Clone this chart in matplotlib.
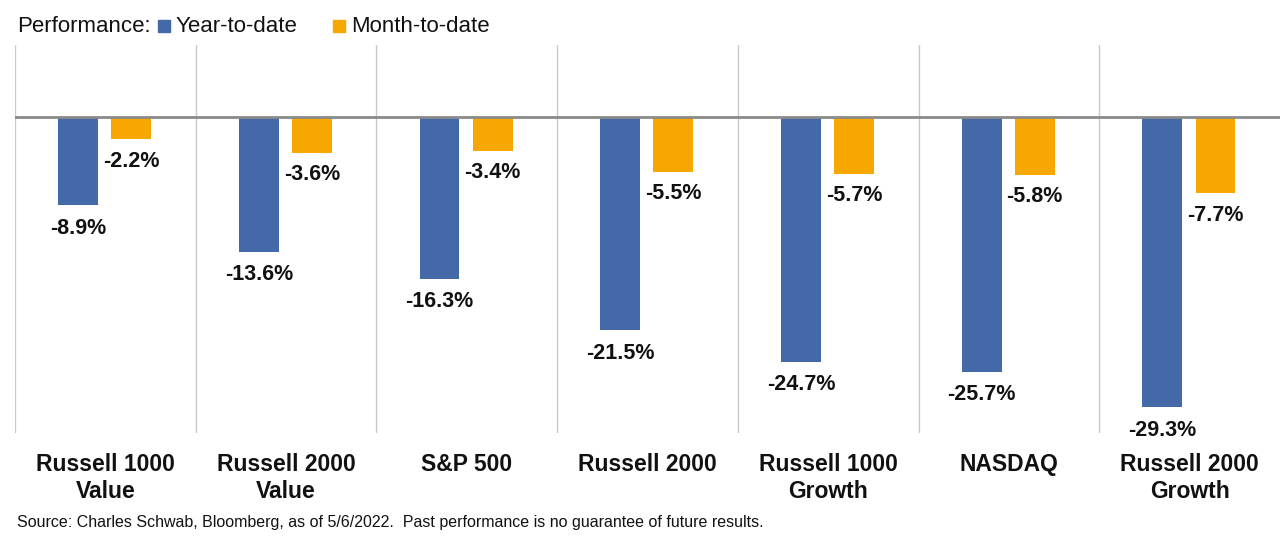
import matplotlib
matplotlib.use("Agg")
import matplotlib.pyplot as plt
import matplotlib.transforms as mtransforms
from matplotlib.patches import Rectangle
import numpy as np

# data
categories = ["Russell 1000\nValue", "Russell 2000\nValue", "S&P 500", "Russell 2000",
              "Russell 1000\nGrowth", "NASDAQ", "Russell 2000\nGrowth"]
ytd = [-8.9, -13.6, -16.3, -21.5, -24.7, -25.7, -29.3]
mtd = [-2.2, -3.6, -3.4, -5.5, -5.7, -5.8, -7.7]
series_names = ["Year-to-date", "Month-to-date"]

blue = "#4469a8"
orange = "#f6a800"
W, H = 1280, 542

fig = plt.figure(figsize=(W / 100, H / 100), dpi=100)
# axes: x 15..1280 px, y 45..433 px (from top)
ax = fig.add_axes([15 / W, (H - 433) / H, 1265 / W, 388 / H])

x = np.arange(len(categories))
bw = 0.221
ax.bar(x - 0.151, ytd, width=bw, color=blue, zorder=3)
ax.bar(x + 0.143, mtd, width=bw, color=orange, zorder=3)

ax.set_xlim(-0.5, len(categories) - 0.5)
ax.set_ylim(-31.9, 7.3)

for sep in np.arange(-0.5, len(categories) - 1, 1.0):
    ax.axvline(sep, color="#c8c8c8", lw=1, zorder=1)
ax.axhline(0, color="#8a8a8a", lw=2, zorder=4)

lab_font = dict(family=["Liberation Sans", "DejaVu Sans"], fontsize=15.5, fontweight="bold",
                color="#111111")
for xi, v in zip(x, ytd):
    ax.annotate(f"{v:.1f}%", (xi - 0.151, v), xytext=(0, -23), textcoords="offset pixels",
                ha="center", va="center", **lab_font)
for xi, v in zip(x, mtd):
    ax.annotate(f"{v:.1f}%", (xi + 0.143, v), xytext=(0, -22), textcoords="offset pixels",
                ha="center", va="center", **lab_font)

trans = mtransforms.blended_transform_factory(ax.transData, fig.transFigure)
for xi, name in zip(x, categories):
    ax.text(xi, 1 - 453 / H, name, transform=trans, ha="center", va="top",
            multialignment="center", linespacing=1.25,
            family=["Liberation Sans", "DejaVu Sans"],
            fontsize=16.5, fontweight="bold", color="#111111")

ax.set_xticks([])
ax.set_yticks([])
for s in ax.spines.values():
    s.set_visible(False)

# legend line at top
leg_font = dict(family=["Liberation Sans", "DejaVu Sans"], fontsize=16, color="#111111")
base = 1 - 32 / H
fig.text(17 / W, base, "Performance:", ha="left", va="baseline", **leg_font)
fig.patches.append(Rectangle((158 / W, base), 12 / W, 12 / H, transform=fig.transFigure,
                             color=blue))
fig.text(176 / W, base, series_names[0], ha="left", va="baseline", **leg_font)
fig.patches.append(Rectangle((333 / W, base), 12 / W, 12 / H, transform=fig.transFigure,
                             color=orange))
fig.text(351 / W, base, series_names[1], ha="left", va="baseline", **leg_font)

fig.text(17 / W, 1 - 527 / H,
         "Source: Charles Schwab, Bloomberg, as of 5/6/2022.  Past performance is no guarantee of future results.",
         ha="left", va="baseline", family=["Liberation Sans", "DejaVu Sans"], fontsize=11.5,
         color="#111111")

fig.savefig("out.png", dpi=100)
